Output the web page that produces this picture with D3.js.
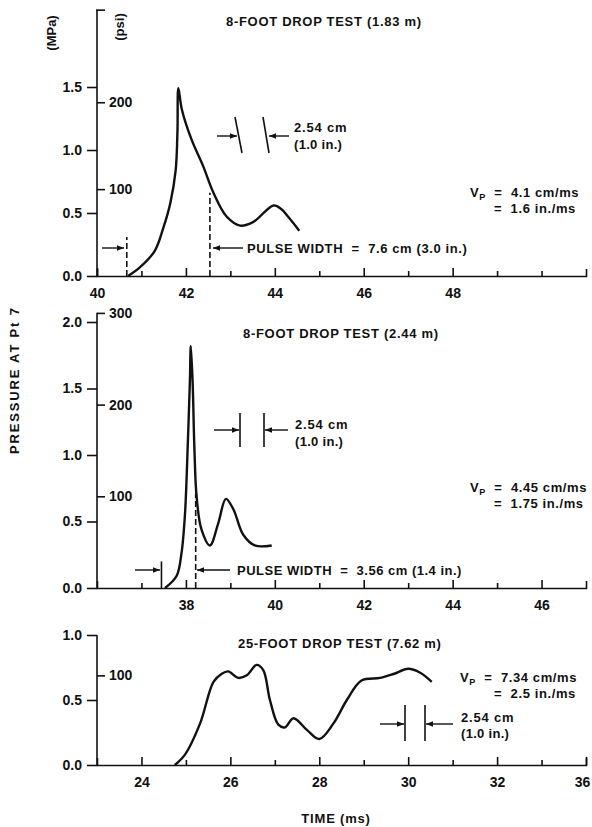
<!DOCTYPE html>
<html>
<head>
<meta charset="utf-8">
<script src="https://cdn.jsdelivr.net/npm/d3@7"></script>
<style>
  body { margin: 0; background: #fff; }
  svg { display: block; font-family: "Liberation Sans", Arial, Helvetica, sans-serif; font-weight: bold; }
  .axis path, .axis line { stroke: #111; stroke-width: 1.6; }
  .axis text { font-size: 14px; font-weight: bold; fill: #111; font-family: "Liberation Sans", Arial, sans-serif; }
  .note { font-size: 13px; fill: #111; white-space: pre; }
</style>
</head>
<body>
<script>
// 8-foot drop test (1.83 m)
const topTime = [40.70, 40.97, 41.30, 41.49, 41.65, 41.77, 41.81, 41.83, 41.91, 42.13, 42.39, 42.62, 42.92, 43.22, 43.52, 43.97, 44.15, 44.30, 44.55]
const topMPa = [0, 0.07, 0.20, 0.38, 0.58, 0.84, 1.15, 1.49, 1.32, 1.08, 0.87, 0.66, 0.47, 0.40, 0.43, 0.56, 0.53, 0.47, 0.36]

// 8-foot drop test (2.44 m)
const midTime = [37.53, 37.79, 37.90, 37.98, 38.04, 38.09, 38.11, 38.15, 38.19, 38.24, 38.35, 38.54, 38.73, 38.90, 39.07, 39.29, 39.55, 39.93]
const midMPa = [0, 0.09, 0.26, 0.56, 1.06, 1.56, 1.82, 1.56, 1.06, 0.69, 0.44, 0.32, 0.49, 0.67, 0.59, 0.40, 0.32, 0.32]

// 25-foot drop test (7.62 m)
const lowTime = [24.75, 24.98, 25.32, 25.62, 25.80, 25.95, 26.18, 26.37, 26.59, 26.74, 26.89, 27.08, 27.23, 27.42, 27.72, 28.00, 28.32, 28.62, 28.95, 29.37, 29.67, 30.00, 30.27, 30.53]
const lowMPa = [0, 0.08, 0.32, 0.64, 0.70, 0.72, 0.67, 0.69, 0.77, 0.73, 0.50, 0.31, 0.29, 0.36, 0.27, 0.20, 0.32, 0.50, 0.65, 0.67, 0.70, 0.74, 0.71, 0.64]

// time axes
const topTimeDomain = [40, 51], midTimeDomain = [36, 47], lowTimeDomain = [23, 34]
const topTimeTicks = [40, 42, 44, 46, 48]
const midTimeTicks = [38, 40, 42, 44, 46]
const lowTimeTicks = [24, 26, 28, 30, 32, 34]
const lowTimeLabels = ["24", "26", "28", "30", "32", "36"]

// pressure axes
const topMPaTicks = [0, 0.5, 1.0, 1.5], topPsiTicks = [100, 200]
const midMPaTicks = [0, 0.5, 1.0, 1.5, 2.0], midPsiTicks = [100, 200, 300]
const lowMPaTicks = [0, 0.5, 1.0], lowPsiTicks = [100]

// pulse width markers [time, MPa height]
const topPulse = [[40.67, 0.31], [42.54, 0.66]]
const midPulse = [[37.45, 0.20], [38.22, 0.71]]

const PSI_PER_MPA = 145.04
const W = 592, H = 827, X0 = 97, X1 = 586
const SP = "\u00A0"

const svg = d3.select("body").append("svg")
    .attr("width", W)
    .attr("height", H)

svg.append("rect").attr("width", W).attr("height", H).attr("fill", "#fff")

svg.append("defs").append("marker")
    .attr("id", "ah")
    .attr("viewBox", "0 0 10 10")
    .attr("refX", 10).attr("refY", 5)
    .attr("markerUnits", "userSpaceOnUse")
    .attr("markerWidth", 8).attr("markerHeight", 7)
    .attr("orient", "auto")
    .append("path").attr("d", "M0,1L10,5L0,9z").attr("fill", "#111")

function arrow(x1, y1, x2, y2) {
    svg.append("line")
        .attr("x1", x1).attr("y1", y1).attr("x2", x2).attr("y2", y2)
        .attr("stroke", "#111").attr("stroke-width", 1.4)
        .attr("marker-end", "url(#ah)")
}

function seg(x1, y1, x2, y2, dash) {
    svg.append("line")
        .attr("x1", x1).attr("y1", y1).attr("x2", x2).attr("y2", y2)
        .attr("stroke", "#111").attr("stroke-width", 1.6)
        .attr("stroke-dasharray", dash || null)
}

function text(str, x, y, size, spacing, anchor) {
    return svg.append("text")
        .attr("class", "note")
        .attr("x", x).attr("y", y)
        .attr("font-size", size || 13)
        .attr("letter-spacing", spacing || 0)
        .attr("text-anchor", anchor || "start")
        .text(str)
}

function vp(x, y, first, second, dx) {
    const t = text("V", x, y, 13, 0.6)
    t.append("tspan").attr("font-size", 9).attr("dy", 3).text("P")
    t.append("tspan").attr("dy", -3).text(SP + SP + "=" + SP + SP + first)
    text("=" + SP + SP + second, x + dx, y + 16, 13, 0.6)
}

function drawPanel(p) {
    const x = d3.scaleLinear().domain(p.timeDomain).range([X0, X1])
    const y = d3.scaleLinear().domain([0, p.mpaTop]).range([p.base, p.base - p.pxPerMPa * p.mpaTop])
    const yPsi = d3.scaleLinear().domain([0, p.mpaTop * PSI_PER_MPA]).range(y.range())

    // minor time ticks
    const minor = d3.range(p.timeDomain[0] + 1, p.timeDomain[1]).filter(d => !p.timeTicks.includes(d))
    const gMinor = svg.append("g").attr("class", "axis")
        .attr("transform", `translate(0,${p.base})`)
        .call(d3.axisBottom(x).tickValues(minor).tickSize(-5).tickSizeOuter(0).tickFormat(""))
    gMinor.select(".domain").remove()

    const gX = svg.append("g").attr("class", "axis")
        .attr("transform", `translate(0,${p.base})`)
        .call(d3.axisBottom(x).tickValues(p.timeTicks).tickSize(-8).tickSizeOuter(-7).tickPadding(12)
            .tickFormat((d, i) => p.timeLabels[i]))
    // a label sitting on the right end is pulled in a little
    gX.selectAll(".tick text").filter(d => d === p.timeDomain[1]).attr("dx", -4)

    // pressure axes
    const gL = svg.append("g").attr("class", "axis")
        .attr("transform", `translate(${X0},0)`)
        .call(d3.axisLeft(y).tickValues(p.mpaTicks).tickSize(10).tickPadding(5).tickFormat(d3.format(".1f")))
    gL.select(".domain").remove()

    const gR = svg.append("g").attr("class", "axis")
        .attr("transform", `translate(${X0},0)`)
        .call(d3.axisRight(yPsi).tickValues(p.psiTicks).tickSize(8).tickPadding(4))
    gR.select(".domain").remove()

    seg(X0, y(0), X0, y(p.axisTop))
    if (p.hook) seg(X0 - 1, y(p.axisTop), X0 + 8, y(p.axisTop))

    // trace
    const line = d3.line()
        .x((d, i) => x(p.time[i]))
        .y(d => y(d))
        .curve(d3.curveCatmullRom.alpha(0.5))
    svg.append("path")
        .datum(p.mpa)
        .attr("d", line)
        .attr("fill", "none")
        .attr("stroke", "#111")
        .attr("stroke-width", 2.4)
        .attr("stroke-linejoin", "round")

    return { x, y }
}

// ---------- top panel ----------
const topP = drawPanel({
    time: topTime, mpa: topMPa, timeDomain: topTimeDomain, timeTicks: topTimeTicks,
    timeLabels: topTimeTicks.map(String), mpaTicks: topMPaTicks, psiTicks: topPsiTicks,
    base: 276, pxPerMPa: 126, mpaTop: 2.11, axisTop: 2.11, hook: true
})
text("8-FOOT DROP TEST (1.83 m)", 226, 26, 14, 0.7)
svg.append("text").attr("class", "note").attr("font-size", 13)
    .attr("transform", "translate(56,33) rotate(-90)").attr("text-anchor", "middle").text("(MPa)")
svg.append("text").attr("class", "note").attr("font-size", 13)
    .attr("transform", "translate(124,27) rotate(-90)").attr("text-anchor", "middle").text("(psi)")
seg(topP.x(topPulse[0][0]), topP.y(0), topP.x(topPulse[0][0]), topP.y(topPulse[0][1]), "6,3")
seg(topP.x(topPulse[1][0]), topP.y(0), topP.x(topPulse[1][0]), topP.y(topPulse[1][1]), "6,3")
arrow(102, 248, 124, 248)
arrow(243, 248, 213, 248)
text("PULSE WIDTH" + SP + SP + "=" + SP + SP + "7.6 cm (3.0 in.)", 247, 253, 13, 0.6)
seg(235, 117, 242, 153)
seg(263, 117, 269, 153)
arrow(217, 136, 237, 136)
arrow(289, 136, 269, 136)
text("2.54 cm", 294, 132, 13, 0.8)
text("(1.0 in.)", 294, 149, 13, 0.3)
vp(470, 197, "4.1 cm/ms", "1.6 in./ms", 24)

// ---------- middle panel ----------
const midP = drawPanel({
    time: midTime, mpa: midMPa, timeDomain: midTimeDomain, timeTicks: midTimeTicks,
    timeLabels: midTimeTicks.map(String), mpaTicks: midMPaTicks, psiTicks: midPsiTicks,
    base: 588, pxPerMPa: 133, mpaTop: 2.07, axisTop: 2.07, hook: false
})
text("8-FOOT DROP TEST (2.44 m)", 243, 338, 14, 0.7)
seg(midP.x(midPulse[0][0]), midP.y(0), midP.x(midPulse[0][0]), midP.y(midPulse[0][1]))
seg(midP.x(midPulse[1][0]), midP.y(0), midP.x(midPulse[1][0]), midP.y(midPulse[1][1]), "6,3")
arrow(135, 570, 160, 570)
arrow(230, 570, 197, 570)
text("PULSE WIDTH" + SP + SP + "=" + SP + SP + "3.56 cm (1.4 in.)", 237, 575, 13, 0.5)
seg(240, 413, 240, 447)
seg(264, 413, 264, 447)
arrow(214, 430, 239, 430)
arrow(288, 430, 265, 430)
text("2.54 cm", 295, 429, 13, 0.8)
text("(1.0 in.)", 295, 446, 13, 0.3)
vp(470, 492, "4.45 cm/ms", "1.75 in./ms", 24)

// ---------- bottom panel ----------
const lowP = drawPanel({
    time: lowTime, mpa: lowMPa, timeDomain: lowTimeDomain, timeTicks: lowTimeTicks,
    timeLabels: lowTimeLabels, mpaTicks: lowMPaTicks, psiTicks: lowPsiTicks,
    base: 765, pxPerMPa: 130, mpaTop: 1.0, axisTop: 1.0, hook: false
})
text("25-FOOT DROP TEST (7.62 m)", 238, 648, 14, 0.7)
seg(405, 705, 405, 741)
seg(425, 705, 425, 741)
arrow(380, 724, 404, 724)
arrow(453, 724, 426, 724)
text("2.54 cm", 461, 722, 13, 0.8)
text("(1.0 in.)", 461, 738, 13, 0.3)
vp(460, 682, "7.34 cm/ms", "2.5 in./ms", 34)

// shared labels
text("TIME (ms)", 336, 823, 15, 0.8, "middle")
svg.append("text").attr("class", "note").attr("font-size", 11)
    .attr("transform", "translate(19,381) rotate(-90)")
    .attr("text-anchor", "middle")
    .attr("textLength", 146)
    .text("PRESSURE AT Pt 7")
</script>
</body>
</html>
